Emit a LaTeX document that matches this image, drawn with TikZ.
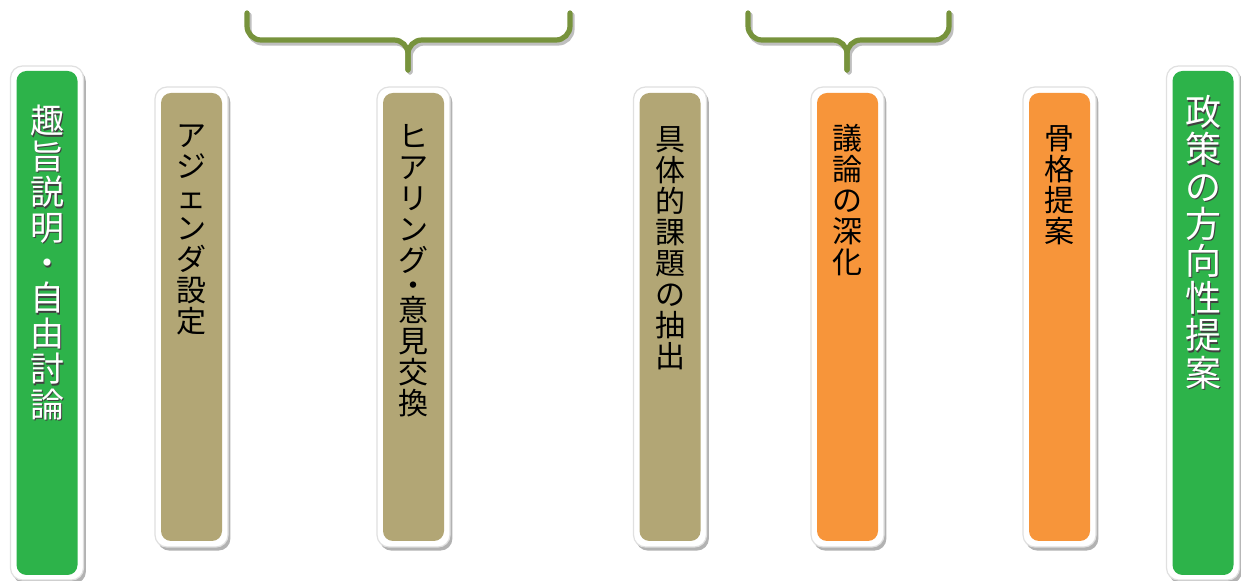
\documentclass[tikz,border=0pt]{standalone}
\usepackage{fontspec}
\newfontfamily\jp{Noto Sans CJK JP}
\usetikzlibrary{shadows}
\definecolor{tanbox}{HTML}{B2A675}
\definecolor{orangebox}{HTML}{F7953A}
\definecolor{greenbox}{HTML}{2DB34A}
\definecolor{bracegreen}{HTML}{77933C}
\tikzset{
  outerbox/.style={fill=white, draw=black!12, line width=0.6pt, rounded corners=6pt, inner sep=0pt, minimum width=36.5pt,
    drop shadow={shadow xshift=1.2pt, shadow yshift=-1.8pt, opacity=0.3, fill=black}},
  innerbox/.style={rounded corners=5pt, inner sep=0pt, minimum width=30.5pt},
  vtext/.style={font=\jp\fontsize{15}{15.5}\selectfont, align=center, anchor=north, inner sep=0pt, text=black},
  gtext/.style={font=\jp\fontsize{17}{17.7}\selectfont, align=center, anchor=north, inner sep=0pt, text=white},
  gshadow/.style={gtext, text=black!75},
  gtextr/.style={font=\jp\fontsize{18}{18.6}\selectfont, align=center, anchor=north, inner sep=0pt, text=white},
  gshadowr/.style={gtextr, text=black!75},
  bracepath/.style={draw=bracegreen, line width=2.6pt, rounded corners=7pt, line cap=round},
  braceshadow/.style={draw=black!25, line width=2.6pt, rounded corners=7pt, line cap=round}
}
\begin{document}
\begin{tikzpicture}[x=0.5pt,y=-0.5pt]
\useasboundingbox[fill=white] (0,0) rectangle (1241,581);

% braces
\draw[braceshadow] (249,15) -- (249,43) -- (410,43) -- (410,72);
\draw[braceshadow] (572,15) -- (572,43) -- (410,43) -- (410,72);
\draw[bracepath] (247,13) -- (247,40) -- (408,40) -- (408,70);
\draw[bracepath] (570,13) -- (570,40) -- (408,40) -- (408,70);
\draw[braceshadow] (750,15) -- (750,43) -- (849,43) -- (849,72);
\draw[braceshadow] (951,15) -- (951,43) -- (849,43) -- (849,72);
\draw[bracepath] (748,13) -- (748,40) -- (847,40) -- (847,70);
\draw[bracepath] (949,13) -- (949,40) -- (847,40) -- (847,70);

% left green
\node[outerbox, minimum height=257pt] (g1o) at (47,323) {};
\node[innerbox, fill=greenbox, minimum height=252pt] (g1) at (47,323) {};
\node[gshadow] (g1s) at (48.5,106.5) {趣\\旨\\説\\明\\・\\自\\由\\討\\論};
\node[gtext] (g1t) at (47,105) {趣\\旨\\説\\明\\・\\自\\由\\討\\論};

% right green
\node[outerbox, minimum height=257pt] (g2o) at (1203,323) {};
\node[innerbox, fill=greenbox, minimum height=252pt] (g2) at (1203,323) {};
\node[gshadowr] (g2s) at (1204.5,96.5) {政\\策\\の\\方\\向\\性\\提\\案};
\node[gtextr] (g2t) at (1203,95) {政\\策\\の\\方\\向\\性\\提\\案};

% tan / orange boxes
\node[outerbox, minimum height=230pt] (b1o) at (191.5,317) {};
\node[innerbox, fill=tanbox, minimum height=224pt] (b1) at (191.5,317) {};
\node[vtext] (b1t) at (191.5,124) {ア\\ジ\\ェ\\ン\\ダ\\設\\定};

\node[outerbox, minimum height=230pt] (b2o) at (413.5,317) {};
\node[innerbox, fill=tanbox, minimum height=224pt] (b2) at (413.5,317) {};
\node[vtext] (b2t) at (413.5,124) {ヒ\\ア\\リ\\ン\\グ\\[-3pt]・\\[-3pt]意\\見\\交\\換};

\node[outerbox, minimum height=230pt] (b3o) at (670,317) {};
\node[innerbox, fill=tanbox, minimum height=224pt] (b3) at (670,317) {};
\node[vtext] (b3t) at (670,126) {具\\体\\的\\課\\題\\の\\抽\\出};

\node[outerbox, minimum height=230pt] (b4o) at (847.5,317) {};
\node[innerbox, fill=orangebox, minimum height=224pt] (b4) at (847.5,317) {};
\node[vtext] (b4t) at (847.5,124) {議\\論\\の\\深\\化};

\node[outerbox, minimum height=230pt] (b5o) at (1059.5,317) {};
\node[innerbox, fill=orangebox, minimum height=224pt] (b5) at (1059.5,317) {};
\node[vtext] (b5t) at (1059.5,125) {骨\\格\\提\\案};
\end{tikzpicture}
\end{document}
